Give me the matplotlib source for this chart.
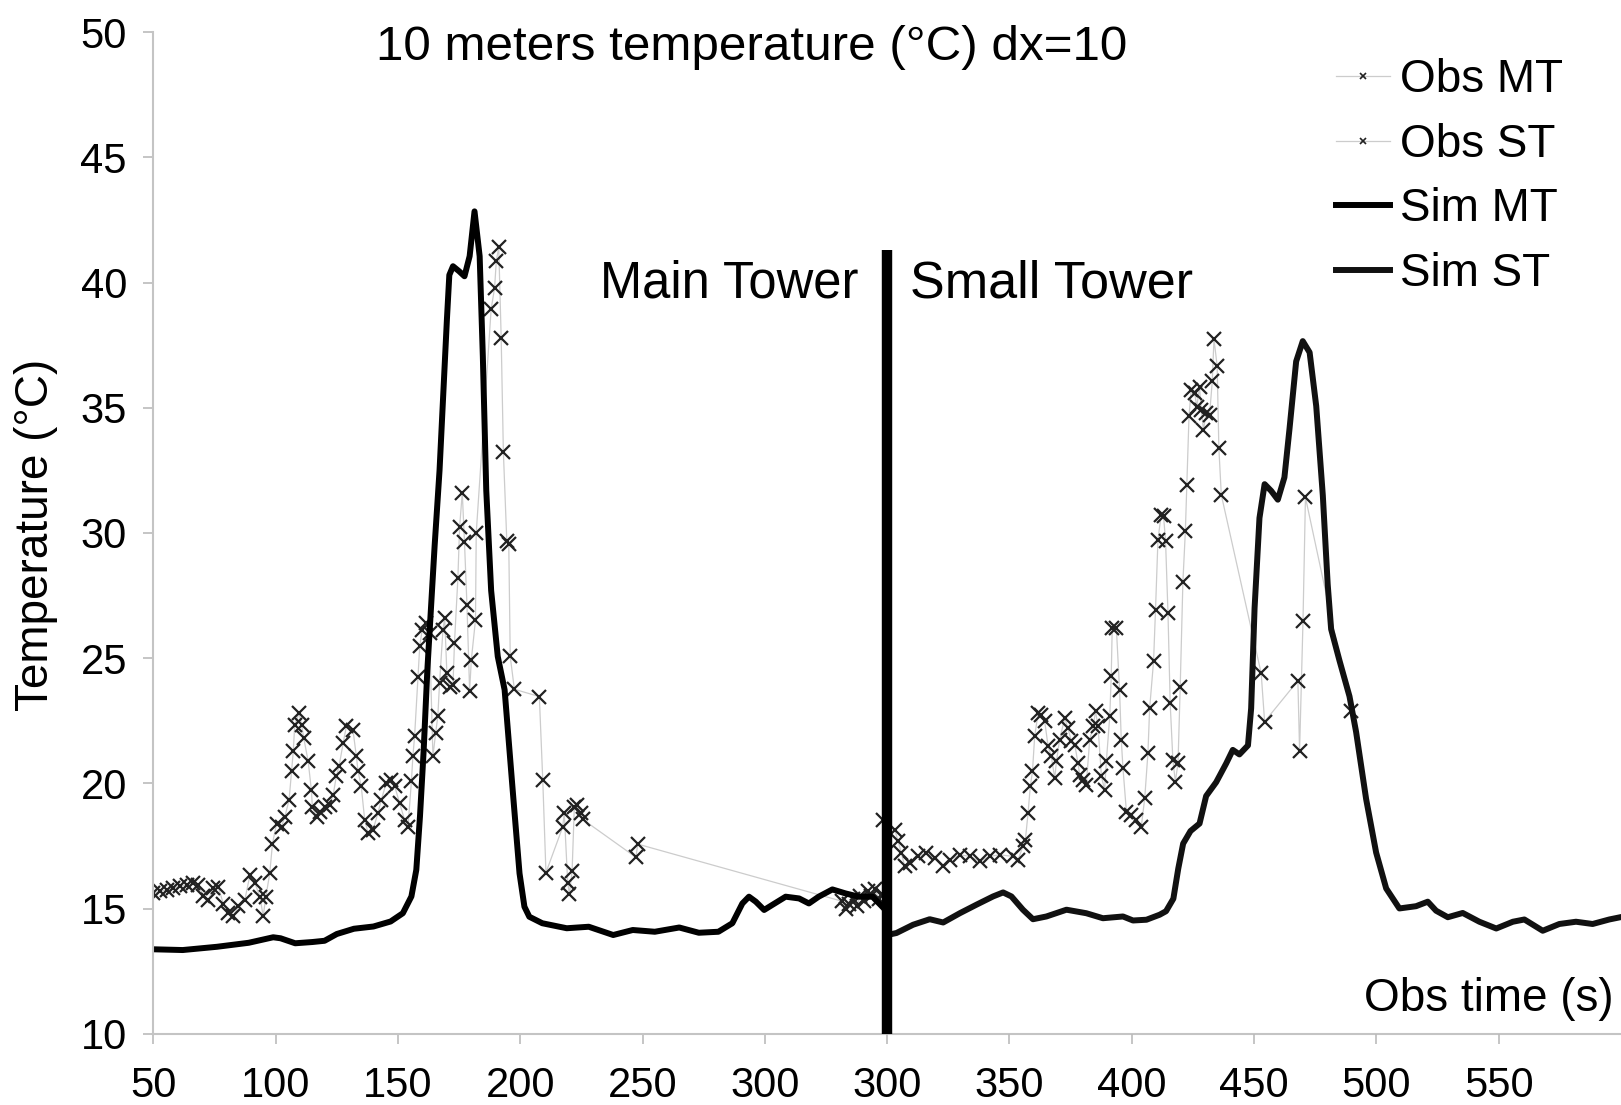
import matplotlib
matplotlib.use("Agg")
import matplotlib.pyplot as plt

plt.rcParams["font.family"] = ["Liberation Sans", "DejaVu Sans"]

# Main tower observations (time in s, temperature in degC)
obs_mt_time = [50.0, 52.7, 55.5, 58.2, 60.9, 63.6, 66.3, 68.4, 70.4, 72.5, 74.5, 76.5, 78.6, 80.6,
               82.7, 84.7, 87.4, 89.5, 91.5, 93.6, 94.9, 96.0, 97.6, 98.7, 100.4, 102.4, 103.8,
               105.5, 106.5, 107.2, 107.8, 109.6, 110.6, 111.5, 113.3, 114.6, 115.0, 116.7, 118.0,
               120.1, 122.1, 123.5, 124.8, 125.9, 127.6, 128.9, 131.6, 133.0, 133.7, 135.0, 136.4,
               137.8, 139.8, 141.8, 143.2, 145.2, 147.3, 148.7, 150.7, 152.7, 154.1, 155.5, 156.1,
               156.8, 158.2, 158.9, 159.9, 161.3, 162.9, 164.3, 165.4, 166.3, 167.0, 168.4, 169.1,
               170.0, 171.1, 172.5, 173.1, 174.5, 175.2, 176.3, 177.2, 178.2, 179.3, 180.0, 181.7,
               182.0, 188.1, 189.5, 190.2, 191.2, 192.2, 193.1, 194.5, 195.3, 195.9, 197.6, 207.8,
               209.2, 210.5, 217.3, 218.0, 219.4, 220.1, 221.2, 222.1, 223.1, 224.8, 225.5, 247.3,
               248.0, 331.5, 333.0, 334.5, 336.0, 337.5, 339.0, 340.5, 342.0, 343.5, 345.0, 346.5,
               348.0]
obs_mt_temp = [15.62, 15.69, 15.75, 15.82, 15.9, 15.95, 16.02, 15.95, 15.5, 15.35, 15.82, 15.88,
               15.2, 14.82, 14.69, 15.09, 15.35, 16.35, 16.02, 15.48, 14.69, 15.48, 16.42, 17.6,
               18.4, 18.28, 18.68, 19.35, 20.48, 21.28, 22.34, 22.81, 22.34, 21.81, 20.88, 19.74,
               19.08, 18.68, 18.88, 19.08, 19.15, 19.54, 20.28, 20.68, 21.61, 22.28, 22.14, 21.08,
               20.48, 19.88, 18.55, 18.01, 18.15, 18.81, 19.35, 20.01, 20.15, 19.88, 19.21, 18.55,
               18.28, 20.08, 21.08, 21.88, 24.27, 25.47, 26.14, 26.4, 26.0, 21.08, 22.01, 22.68,
               24.0, 26.14, 26.6, 24.4, 23.87, 23.94, 25.6, 28.2, 30.24, 31.6, 29.63, 27.14, 23.7,
               24.94, 26.53, 30.0, 38.94, 39.78, 40.85, 41.42, 37.79, 33.22, 29.67, 29.57, 25.07,
               23.76, 23.47, 20.14, 16.44, 18.25, 18.81, 16.04, 15.59, 16.51, 19.07, 19.14, 18.81,
               18.57, 17.05, 17.58, 15.3, 15.0, 15.2, 15.4, 15.1, 15.5, 15.3, 15.7, 15.5, 15.8,
               15.4, 15.6]

# Small tower observations
obs_st_time = [298.3, 303.1, 304.5, 305.8, 307.2, 309.2, 312.6, 316.0, 319.5, 322.9, 325.6, 329.7,
               333.8, 337.8, 341.9, 346.0, 351.5, 353.5, 355.5, 356.5, 357.6, 358.5, 359.4, 360.3,
               361.7, 363.0, 364.4, 365.8, 367.1, 368.5, 369.2, 370.5, 372.6, 373.9, 375.3, 376.7,
               378.0, 378.7, 380.1, 381.4, 382.8, 384.2, 385.2, 386.2, 387.6, 388.9, 389.6, 391.0,
               391.6, 392.0, 393.7, 395.0, 395.7, 396.4, 397.8, 399.8, 401.9, 403.9, 405.3, 406.6,
               407.3, 408.9, 409.7, 410.7, 412.0, 413.0, 413.8, 414.8, 415.7, 416.8, 417.8, 418.9,
               419.8, 420.9, 421.9, 422.5, 423.4, 424.3, 425.7, 426.6, 427.7, 428.4, 429.3, 430.4,
               431.8, 432.9, 433.6, 434.9, 435.6, 436.6, 452.9, 454.3, 467.9, 468.6, 470.0, 471.0,
               489.7]
obs_st_temp = [18.55, 18.15, 17.69, 17.22, 16.69, 16.82, 17.09, 17.22, 17.02, 16.69, 16.95, 17.15,
               17.09, 16.89, 17.09, 17.15, 17.09, 16.95, 17.49, 17.75, 18.82, 19.88, 20.48, 21.88,
               22.81, 22.74, 22.48, 21.48, 21.08, 20.21, 20.88, 21.75, 22.61, 22.21, 21.68, 21.55,
               20.81, 20.35, 20.15, 19.95, 21.75, 22.28, 22.88, 22.28, 20.28, 19.75, 20.88, 22.68,
               24.28, 26.2, 26.2, 23.74, 21.75, 20.61, 18.88, 18.75, 18.55, 18.28, 19.42, 21.21,
               23.0, 24.87, 26.93, 29.73, 30.72, 30.66, 29.7, 26.8, 23.2, 20.94, 20.07, 20.81,
               23.87, 28.06, 30.06, 31.92, 34.68, 35.72, 35.58, 35.05, 35.82, 34.92, 34.12, 34.78,
               34.72, 36.05, 37.74, 36.67, 33.39, 31.52, 24.4, 22.47, 24.1, 21.3, 26.5, 31.42,
               22.9]

# Main tower simulation
sim_mt_time = [50, 62, 76, 89, 99, 102, 108, 115, 120, 125, 132, 140, 147, 152, 155.5, 157.5, 159,
               160.5, 162, 163.5, 165, 167, 168.5, 170, 171, 172.5, 175, 177.2, 179.3, 181.3, 183.4,
               184.7, 186.1, 188.1, 190.8, 193.6, 196.9, 199.7, 201.7, 203.7, 209, 219, 228, 238,
               246, 255, 265, 273, 281, 286.7, 290.8, 293.5, 296.3, 299.7, 303, 308.5, 314, 318,
               322, 327.6, 333, 338.4, 344, 348]
sim_mt_temp = [13.38, 13.35, 13.48, 13.64, 13.86, 13.82, 13.62, 13.67, 13.72, 13.99, 14.2, 14.29,
               14.49, 14.82, 15.49, 16.55, 18.68, 21.3, 24.5, 27.0, 29.5, 32.5, 35.5, 38.5, 40.3,
               40.65, 40.45, 40.25, 41.05, 42.84, 41.05, 37.05, 31.7, 27.7, 25.07, 23.74, 19.74,
               16.41, 15.08, 14.68, 14.42, 14.22, 14.28, 13.95, 14.15, 14.08, 14.25, 14.04, 14.08,
               14.42, 15.21, 15.48, 15.28, 14.95, 15.15, 15.48, 15.41, 15.21, 15.48, 15.77, 15.61,
               15.48, 15.48, 15.08]

# Small tower simulation
sim_st_time = [300, 303.8, 310.6, 317.4, 322.9, 329.7, 336.5, 343.3, 347.4, 350.8, 355.5, 359.6,
               365.1, 373.3, 381.4, 388.2, 396.4, 400.5, 406, 411.4, 414, 417, 419, 421, 424, 427.7,
               430.4, 434.5, 438.6, 441.3, 444, 447.5, 448.8, 450.2, 452.2, 454.3, 457, 459.7,
               462.4, 464.5, 467.2, 469.9, 472.7, 475.4, 478.1, 480.1, 481.5, 484.9, 489, 491.7,
               495.8, 499.9, 504, 509.4, 516.2, 521, 524.4, 529.2, 535.3, 542.1, 549, 555.8, 560.5,
               568, 574.8, 581.6, 588.4, 595.2, 599.7]
sim_st_temp = [13.95, 14.03, 14.36, 14.58, 14.45, 14.82, 15.16, 15.49, 15.65, 15.49, 14.96, 14.58,
               14.69, 14.96, 14.82, 14.62, 14.69, 14.53, 14.56, 14.76, 14.9, 15.4, 16.6, 17.6, 18.1,
               18.4, 19.5, 20.05, 20.8, 21.34, 21.16, 21.52, 23.0, 27.0, 30.6, 31.95, 31.68, 31.33,
               32.22, 34.18, 36.85, 37.66, 37.21, 35.07, 31.5, 27.94, 26.16, 24.91, 23.48, 22.06,
               19.38, 17.24, 15.81, 15.01, 15.1, 15.28, 14.92, 14.66, 14.83, 14.48, 14.21, 14.48,
               14.57, 14.12, 14.39, 14.48, 14.39, 14.57, 14.66]

mt_ticks = [50, 100, 150, 200, 250, 300]
st_ticks = [300, 350, 400, 450, 500, 550]
y_ticks = [10, 15, 20, 25, 30, 35, 40, 45, 50]

# separator between the two towers (small tower time axis)
divider_time = 300
divider_top = 41.3

fig = plt.figure(figsize=(16.21, 11.05), dpi=100)
ax = fig.add_axes([0.0946, 0.0643, 0.9054, 0.9067])
ax2 = ax.twiny()

obs_style = dict(color="#cccccc", lw=0.9, marker="x", ms=10, mew=1.6, mec="#222222")
l1, = ax.plot(obs_mt_time, obs_mt_temp, label="Obs MT", **obs_style)
l3, = ax.plot(sim_mt_time, sim_mt_temp, color="black", lw=4.3, solid_joinstyle="round",
              label="Sim MT")
l2, = ax2.plot(obs_st_time, obs_st_temp, label="Obs ST", **obs_style)
l4, = ax2.plot(sim_st_time, sim_st_temp, color="#111111", lw=4.3, solid_joinstyle="round",
               label="Sim ST")
ax2.vlines(divider_time, 10, divider_top, color="black", lw=7.5)

ax.set_xlim(50, 650)
ax2.set_xlim(0, 600)
ax.set_ylim(10, 50)
ax.set_xticks(mt_ticks)
ax2.set_xticks(st_ticks)
ax.set_yticks(y_ticks)

for a in (ax, ax2):
    a.xaxis.set_ticks_position("bottom")
    a.xaxis.set_label_position("bottom")
    a.tick_params(axis="x", direction="out", length=7, width=1.2, color="#bbbbbb",
                  labelsize=30, pad=16)
ax.tick_params(axis="y", direction="out", length=7, width=1.2, color="#bbbbbb",
               labelsize=30, pad=12)

for s in ("top", "right"):
    ax.spines[s].set_visible(False)
for s in ("left", "bottom"):
    ax.spines[s].set_color("#c4c4c4")
    ax.spines[s].set_linewidth(1.5)
for s in ax2.spines.values():
    s.set_visible(False)

fig.text(752 / 1621, 1 - 47 / 1105, "10 meters temperature (°C) dx=10", fontsize=35.6,
         ha="center", va="center")
fig.text(36 / 1621, 1 - 535 / 1105, "Temperature (°C)", fontsize=33, rotation=90,
         ha="center", va="center")
fig.text(858 / 1621, 1 - 284 / 1105, "Main Tower", fontsize=36.5, ha="right", va="center")
fig.text(910 / 1621, 1 - 284 / 1105, "Small Tower", fontsize=37.5, ha="left", va="center")
fig.text(1614 / 1621, 1 - 999 / 1105, "Obs time (s)", fontsize=33, ha="right", va="center")

leg_obs1, = ax.plot([], [], color="#cccccc", lw=0.9, marker="x", ms=5, mew=1.2, mec="#222222")
leg_obs2, = ax.plot([], [], color="#cccccc", lw=0.9, marker="x", ms=5, mew=1.2, mec="#222222")
fig.legend([leg_obs1, leg_obs2, l3, l4], ["Obs MT", "Obs ST", "Sim MT", "Sim ST"],
           loc="upper left", bbox_to_anchor=(1336 / 1621, 1 - 58 / 1105), frameon=False,
           fontsize=33, handlelength=1.18, handletextpad=0.22, labelspacing=0.45, borderpad=0,
           borderaxespad=0)

fig.savefig("out.png", dpi=100)
